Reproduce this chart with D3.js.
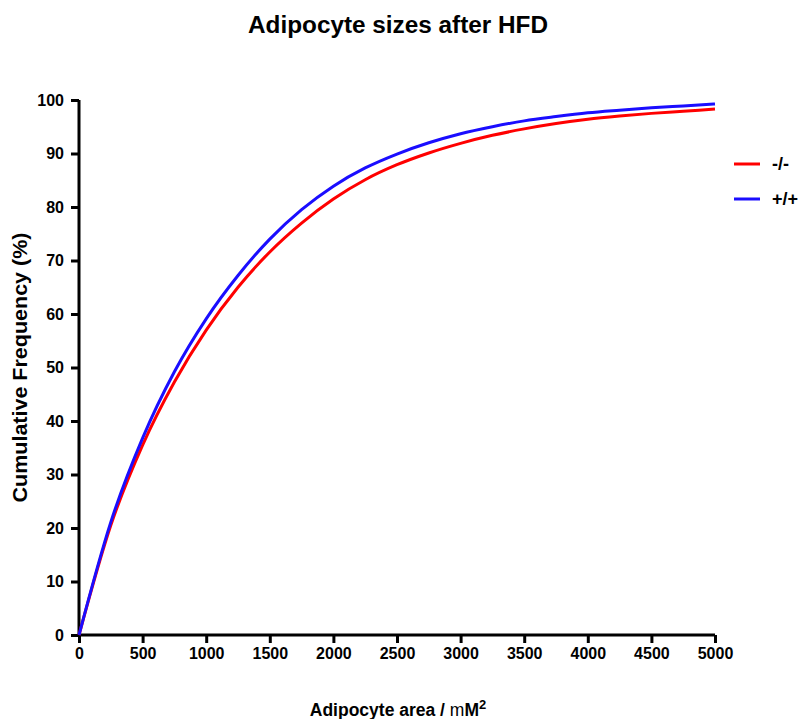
<!DOCTYPE html>
<html>
<head>
<meta charset="utf-8">
<script src="https://cdn.jsdelivr.net/npm/d3@7"></script>
<style>
  html, body { margin: 0; padding: 0; background: #fff; }
  svg { display: block; font-family: "Liberation Sans", Arial, sans-serif; }
</style>
</head>
<body>
<svg id="chart" width="799" height="719"></svg>
<script>
// Cumulative frequency of adipocyte area (%), sampled every 250 units
const areas = [0, 250, 500, 750, 1000, 1250, 1500, 1750, 2000, 2250, 2500,
               2750, 3000, 3250, 3500, 3750, 4000, 4250, 4500, 4750, 5000];
const knockout = [0, 20.5, 35.5, 47.3, 57.0, 65.0, 71.6, 77.0, 81.5, 85.1, 87.9,
                  90.1, 91.9, 93.4, 94.6, 95.6, 96.4, 97.0, 97.5, 97.9, 98.3];
const wildtype = [0, 21.1, 36.8, 49.2, 59.1, 67.2, 74.0, 79.5, 83.9, 87.3, 89.9,
                  92.0, 93.7, 95.0, 96.1, 96.9, 97.6, 98.1, 98.55, 98.9, 99.25];

const seriesNames = ["-/-", "+/+"];
const seriesColors = ["#ff0000", "#1a0dff"];
const xTicks = [0, 500, 1000, 1500, 2000, 2500, 3000, 3500, 4000, 4500, 5000];
const yTicks = [0, 10, 20, 30, 40, 50, 60, 70, 80, 90, 100];

const svg = d3.select("#chart");
const margin = { left: 79, right: 84, top: 100, bottom: 84 };
const W = 799, H = 719;

const x = d3.scaleLinear().domain([0, 5000]).range([margin.left, W - margin.right]);
const y = d3.scaleLinear().domain([0, 100]).range([H - margin.bottom, margin.top]);

// Title
svg.append("text")
  .attr("x", 398).attr("y", 33)
  .attr("text-anchor", "middle")
  .attr("font-size", 23).attr("font-weight", "bold")
  .attr("textLength", 300).attr("lengthAdjust", "spacingAndGlyphs")
  .text("Adipocyte sizes after HFD");

// Axes
const xAxis = svg.append("g")
  .attr("transform", `translate(0,${y(0)})`)
  .call(d3.axisBottom(x).tickValues(xTicks).tickSize(8).tickPadding(5).tickFormat(d3.format("d")));
const yAxis = svg.append("g")
  .attr("transform", `translate(${x(0)},0)`)
  .call(d3.axisLeft(y).tickValues(yTicks).tickSize(8).tickPadding(7).tickFormat(d3.format("d")));

[xAxis, yAxis].forEach(g => {
  g.select(".domain").attr("stroke", "#000").attr("stroke-width", 3);
  g.selectAll(".tick line").attr("stroke", "#000").attr("stroke-width", 3);
  g.selectAll(".tick text")
    .attr("fill", "#000")
    .attr("font-size", 16).attr("font-weight", "bold")
    .attr("font-family", "Liberation Sans, Arial, sans-serif");
});
// axis lines end exactly at the data range
xAxis.select(".domain").attr("d", `M${x(0)},0H${x(5000)}`);
yAxis.select(".domain").attr("d", `M0,${y(0)}V${y(100)}`);

// Axis titles
svg.append("text")
  .attr("transform", `translate(27,${(y(0) + y(100)) / 2}) rotate(-90)`)
  .attr("text-anchor", "middle")
  .attr("font-size", 20).attr("font-weight", "bold")
  .attr("textLength", 270).attr("lengthAdjust", "spacingAndGlyphs")
  .text("Cumulative Frequency (%)");

const xt = svg.append("text")
  .attr("x", 398).attr("y", 716)
  .attr("text-anchor", "middle")
  .attr("font-size", 17.5).attr("font-weight", "bold");
xt.append("tspan").text("Adipocyte area / ");
xt.append("tspan").attr("font-weight", "normal").text("m");
xt.append("tspan").text("M");
xt.append("tspan").attr("dy", -7).attr("font-size", 13).text("2");

// Curves
const line = d3.line()
  .x(d => x(d[0]))
  .y(d => y(d[1]))
  .curve(d3.curveMonotoneX);

[knockout, wildtype].forEach((vals, i) => {
  svg.append("path")
    .datum(areas.map((a, j) => [a, vals[j]]))
    .attr("fill", "none")
    .attr("stroke", seriesColors[i])
    .attr("stroke-width", 3)
    .attr("d", line);
});

// Legend
const legend = svg.append("g").attr("transform", "translate(734,164)");
seriesNames.forEach((name, i) => {
  const g = legend.append("g").attr("transform", `translate(0,${i * 35})`);
  g.append("line").attr("x1", 0).attr("x2", 26).attr("y1", 0).attr("y2", 0)
    .attr("stroke", seriesColors[i]).attr("stroke-width", 3);
  g.append("text").attr("x", 38).attr("y", 0).attr("dy", "0.35em")
    .attr("font-size", 18).attr("font-weight", "bold")
    .text(name);
});
</script>
</body>
</html>
